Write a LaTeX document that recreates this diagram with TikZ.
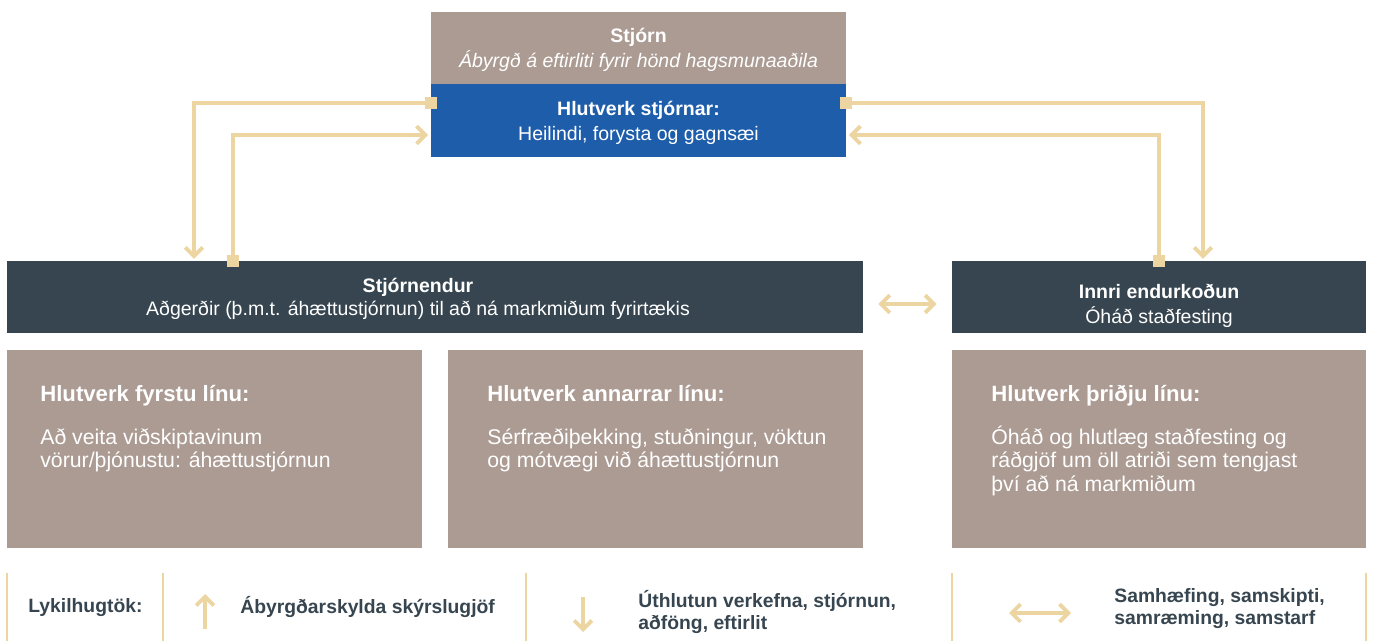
\documentclass[tikz,border=0pt]{standalone}
\usepackage{fontspec}
\setmainfont{Liberation Sans}
\usetikzlibrary{arrows.meta}
\definecolor{taupe}{HTML}{AB9B93}
\definecolor{boardblue}{HTML}{1D5DAA}
\definecolor{slate}{HTML}{36454F}
\definecolor{sand}{HTML}{EDD5A1}
\begin{document}
\begin{tikzpicture}
  [x=0.02cm,y=-0.02cm,
   box/.style={rectangle, inner sep=0pt, text=white, align=center},
   link/.style={draw=sand, line width=2.2pt, -{Straight Barb[length=5pt,width=10pt]}},
   marker/.style={rectangle, fill=sand, inner sep=0pt, minimum size=0.24cm},
   sep/.style={draw=sand, line width=1pt},
   keytext/.style={inner sep=0pt, text=slate, align=left, anchor=west, font=\fontsize{11}{12.5}\selectfont\bfseries}]
  \useasboundingbox (0,0) rectangle (1375,641);

  % board
  \node[box, fill=taupe, minimum width=8.3cm, minimum height=1.44cm] (board) at (638.5,48) {};
  \node[box, font=\fontsize{11.1}{14.2}\selectfont] (boardtxt) at (638.5,50)
    {\textbf{Stjórn}\\ \textit{Ábyrgð á eftirliti fyrir hönd hagsmunaaðila}};
  \node[box, fill=boardblue, minimum width=8.3cm, minimum height=1.46cm] (role) at (638.5,120.5) {};
  \node[box, font=\fontsize{11.1}{14.2}\selectfont] (roletxt) at (638.5,123)
    {\textbf{Hlutverk stjórnar:}\\ Heilindi, forysta og gagnsæi};

  % management and audit
  \node[box, fill=slate, minimum width=17.12cm, minimum height=1.44cm] (mgr) at (435,297) {};
  \node[box, font=\fontsize{11.1}{13}\selectfont] (mgrtxt) at (418,299)
    {\textbf{Stjórnendur}\\ Aðgerðir (þ.m.t. áhættustjórnun) til að ná markmiðum fyrirtækis};
  \node[box, fill=slate, minimum width=8.28cm, minimum height=1.44cm] (audit) at (1159,297) {};
  \node[box, font=\fontsize{11.1}{14.2}\selectfont] (audittxt) at (1159,306)
    {\textbf{Innri endurkoðun}\\ Óháð staðfesting};

  % lines of defence
  \node[box, fill=taupe, minimum width=8.3cm, minimum height=3.96cm] (line1) at (214.5,449) {};
  \node[box, fill=taupe, minimum width=8.3cm, minimum height=3.96cm] (line2) at (655.5,449) {};
  \node[box, fill=taupe, minimum width=8.28cm, minimum height=3.96cm] (line3) at (1159,449) {};
  \node[box, align=left, anchor=north west, font=\fontsize{12.1}{13.3}\selectfont] (line1txt) at (40,385)
    {{\fontsize{12.6}{14}\selectfont\bfseries Hlutverk fyrstu línu:}\\[11pt]
     Að veita viðskiptavinum\\ vörur/þjónustu: áhættustjórnun};
  \node[box, align=left, anchor=north west, font=\fontsize{12.1}{13.3}\selectfont] (line2txt) at (487,385)
    {{\fontsize{12.6}{14}\selectfont\bfseries Hlutverk annarrar línu:}\\[11pt]
     Sérfræðiþekking, stuðningur, vöktun\\ og mótvægi við áhættustjórnun};
  \node[box, align=left, anchor=north west, font=\fontsize{12.1}{13.3}\selectfont] (line3txt) at (991,385)
    {{\fontsize{12.6}{14}\selectfont\bfseries Hlutverk þriðju línu:}\\[11pt]
     Óháð og hlutlæg staðfesting og\\ ráðgjöf um öll atriði sem tengjast\\ því að ná markmiðum};

  % connectors
  \coordinate (bw) at ([yshift=.35cm]role.west);
  \coordinate (be) at ([yshift=.35cm]role.east);
  \coordinate (rw) at ([yshift=-.29cm]role.west);
  \coordinate (re) at ([yshift=-.29cm]role.east);
  \coordinate (mt) at ([xshift=-4.04cm]mgr.north);
  \coordinate (md) at ([xshift=-4.82cm]mgr.north);
  \coordinate (at) at (audit.north);
  \coordinate (ad) at ([xshift=.88cm]audit.north);
  \foreach \from/\to in {bw/md, be/ad}
    \draw[link, shorten >=1pt] (\from) -| (\to);
  \foreach \from/\to in {mt/rw, at/re}
    \draw[link, shorten >=1.5pt] (\from) |- (\to);
  \foreach \pt in {bw, be, mt, at}
    \node[marker] (sq-\pt) at (\pt) {};
  \draw[link, {Straight Barb[length=5pt,width=10pt]}-{Straight Barb[length=5pt,width=10pt]}, shorten <=.3cm, shorten >=.3cm]
    ([yshift=-.14cm]mgr.east) -- ([yshift=-.14cm]audit.west);

  % legend
  \foreach \x in {7,163,526,952,1366}
    \draw[sep] (\x,573) -- (\x,641);
  \node[keytext] (key) at (28,608) {Lykilhugtök:};
  \draw[link] (205,629) -- (205,594);
  \node[keytext] (keyup) at (240,607) {Ábyrgðarskylda skýrslugjöf};
  \draw[link] (583,597) -- (583,632);
  \node[keytext] (keydown) at (638,612) {Úthlutun verkefna, stjórnun,\\ aðföng, eftirlit};
  \draw[link, {Straight Barb[length=5pt,width=10pt]}-{Straight Barb[length=5pt,width=10pt]}] (1009,613) -- (1071,613);
  \node[keytext] (keyboth) at (1114,609) {Samhæfing, samskipti,\\ samræming, samstarf};
\end{tikzpicture}
\end{document}
